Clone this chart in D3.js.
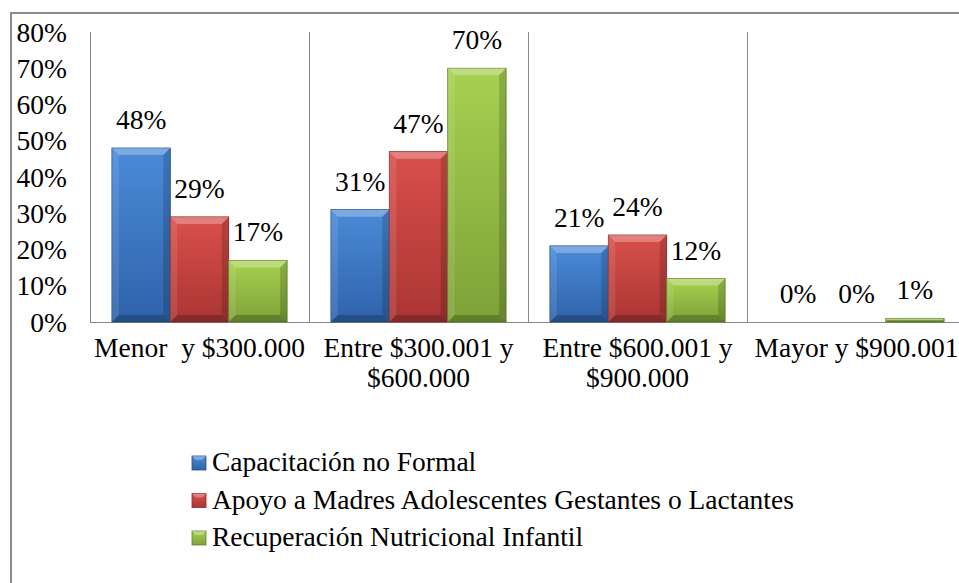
<!DOCTYPE html>
<html>
<head>
<meta charset="utf-8">
<script src="https://cdn.jsdelivr.net/npm/d3@7"></script>
<style>
  html, body { margin: 0; padding: 0; background: #fff; }
  svg { display: block; }
</style>
</head>
<body>
<svg id="chart" width="959" height="583"></svg>
<script>
// ---- data ----
const categories = ["Menor \u00a0y $300.000", "Entre $300.001 y\n$600.000", "Entre $600.001 y\n$900.000", "Mayor y $900.001"];
const seriesNames = ["Capacitación no Formal", "Apoyo a Madres Adolescentes Gestantes o Lactantes", "Recuperación Nutricional Infantil"];
const capacitacion = [0.48, 0.31, 0.21, 0.00];
const apoyo = [0.29, 0.47, 0.24, 0.00];
const recuperacion = [0.17, 0.70, 0.12, 0.01];
const yTicks = [0, 0.1, 0.2, 0.3, 0.4, 0.5, 0.6, 0.7, 0.8];

const seriesValues = [capacitacion, apoyo, recuperacion];
const colors = [
  { top: "#4a8ad8", bot: "#2f63aa", edge: "#24508c" },
  { top: "#d9504c", bot: "#aa3533", edge: "#8c2a28" },
  { top: "#a6d150", bot: "#7da238", edge: "#63822a" }
];
const FONT = "Liberation Serif";
const FS = 27.5;

const svg = d3.select("#chart");
const W = 959, H = 583;
const plotLeft = 90, plotTop = 32, plotBottom = 322;
const bandW = 219;

// outer border
svg.append("rect").attr("x", 11).attr("y", 13).attr("width", 1100).attr("height", 1100)
  .attr("fill", "none").attr("stroke", "#8c8c8c").attr("stroke-width", 2);

const x0 = d3.scaleBand().domain(categories).range([plotLeft, plotLeft + bandW * categories.length]).padding(0);
const x1 = d3.scaleBand().domain(d3.range(seriesNames.length)).range([x0.bandwidth() * 0.1, x0.bandwidth() * 0.9]).padding(0);
const y = d3.scaleLinear().domain([0, 0.8]).range([plotBottom, plotTop]);

// gradients
const defs = svg.append("defs");
colors.forEach((c, i) => {
  const g = defs.append("linearGradient").attr("id", "g" + i).attr("x1", 0).attr("y1", 0).attr("x2", 0).attr("y2", 1);
  g.append("stop").attr("offset", "0%").attr("stop-color", c.top);
  g.append("stop").attr("offset", "100%").attr("stop-color", c.bot);
});

// category separators (vertical gridlines)
const gridG = svg.append("g");
categories.forEach((c, i) => {
  gridG.append("line")
    .attr("x1", x0(c) + 0.5).attr("x2", x0(c) + 0.5)
    .attr("y1", y(0.8)).attr("y2", y(0))
    .attr("stroke", "#888").attr("stroke-width", 1);
});
gridG.append("line").attr("x1", plotLeft).attr("x2", W).attr("y1", y(0) + 0.5).attr("y2", y(0) + 0.5)
  .attr("stroke", "#888").attr("stroke-width", 1);

// y tick labels
const yAxis = d3.axisLeft(y).tickValues(yTicks).tickFormat(d3.format(".0%")).tickSize(0).tickPadding(23);
const yg = svg.append("g").attr("transform", `translate(${plotLeft},0)`).call(yAxis);
yg.attr("font-family", FONT).attr("font-size", FS);
yg.select(".domain").remove();
yg.selectAll("text").attr("font-family", FONT).attr("font-size", FS).attr("fill", "#000").attr("dy", "0.33em");

// bars
const barsG = svg.append("g");
seriesValues.forEach((vals, si) => {
  vals.forEach((v, ci) => {
    const bx = x0(categories[ci]) + x1(si);
    const bw = x1.bandwidth();
    const by = y(v);
    const bh = y(0) - y(v);
    if (bh <= 0) return;
    const g = barsG.append("g");
    g.append("rect").attr("x", bx).attr("y", by).attr("width", bw).attr("height", bh)
      .attr("fill", `url(#g${si})`).attr("stroke", colors[si].edge).attr("stroke-width", 0.8);
    const b = Math.min(7, bh / 2);
    g.append("path").attr("d", `M${bx},${by}L${bx + bw},${by}L${bx + bw - b},${by + b}L${bx + b},${by + b}Z`)
      .attr("fill", "#fff").attr("opacity", 0.28);
    g.append("path").attr("d", `M${bx},${by}L${bx + b},${by + b}L${bx + b},${by + bh - b}L${bx},${by + bh}Z`)
      .attr("fill", "#fff").attr("opacity", 0.10);
    g.append("path").attr("d", `M${bx + bw},${by}L${bx + bw - b},${by + b}L${bx + bw - b},${by + bh - b}L${bx + bw},${by + bh}Z`)
      .attr("fill", "#000").attr("opacity", 0.16);
    g.append("path").attr("d", `M${bx},${by + bh}L${bx + b},${by + bh - b}L${bx + bw - b},${by + bh - b}L${bx + bw},${by + bh}Z`)
      .attr("fill", "#000").attr("opacity", 0.22);
  });
});

// data labels
const labG = svg.append("g");
seriesValues.forEach((vals, si) => {
  vals.forEach((v, ci) => {
    labG.append("text")
      .attr("x", x0(categories[ci]) + x1(si) + x1.bandwidth() / 2)
      .attr("y", y(v) - 19)
      .attr("text-anchor", "middle")
      .attr("font-family", FONT)
      .attr("font-size", FS)
      .attr("fill", "#000")
      .text(d3.format(".0%")(v));
  });
});

// category labels
const catG = svg.append("g");
categories.forEach(c => {
  const lines = c.split("\n");
  const t = catG.append("text").attr("text-anchor", "middle")
    .attr("font-family", FONT).attr("font-size", FS).attr("fill", "#000");
  lines.forEach((ln, li) => {
    t.append("tspan").attr("x", x0(c) + x0.bandwidth() / 2).attr("y", 357 + li * 30).text(ln);
  });
});

// legend
const legG = svg.append("g");
seriesNames.forEach((n, i) => {
  const by = 471 + i * 37.5;
  const sq = 14;
  legG.append("rect").attr("x", 192).attr("y", by - sq - 1).attr("width", sq).attr("height", sq)
    .attr("fill", `url(#g${i})`).attr("stroke", colors[i].edge).attr("stroke-width", 0.8);
  legG.append("path").attr("d", `M192,${by - sq - 1}L${192 + sq},${by - sq - 1}L${192 + sq - 4},${by - sq + 3}L196,${by - sq + 3}Z`)
    .attr("fill", "#fff").attr("opacity", 0.3);
  legG.append("text").attr("x", 212).attr("y", by)
    .attr("font-family", FONT).attr("font-size", FS).attr("fill", "#000").text(n);
});
</script>
</body>
</html>
